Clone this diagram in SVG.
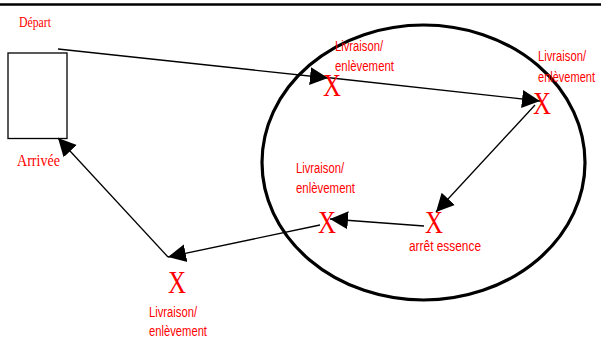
<svg xmlns="http://www.w3.org/2000/svg" width="601" height="352" viewBox="0 0 601 352">
<style>
.lbl{font-family:"Liberation Sans",Arial,sans-serif;font-size:14px;fill:#ff0000}
.ser{font-family:"Liberation Serif","Times New Roman",serif;fill:#ff0000}
.x{font-family:"Liberation Serif","Times New Roman",serif;font-size:31px;fill:#ff0000;text-anchor:middle}
.conn{stroke:#000;stroke-width:1.3;fill:none}
</style>
<defs>
<marker id="ah" markerUnits="userSpaceOnUse" markerWidth="20" markerHeight="20" viewBox="0 0 20 20" refX="18" refY="10" orient="auto">
<path d="M0,1 L18,10 L0,19 Z" fill="#000"/>
</marker>
</defs>
<rect width="601" height="352" fill="#fff"/>
<line x1="0" y1="4.5" x2="601" y2="4.5" stroke="#000" stroke-width="2.5"/>
<g id="zone">
<ellipse cx="423.5" cy="162.5" rx="161.5" ry="137.5" fill="none" stroke="#000" stroke-width="3.2"/>
</g>
<g id="depot">
<rect x="8" y="53" width="59" height="85.5" fill="none" stroke="#000" stroke-width="1.3"/>
<text class="ser" x="19" y="27" font-size="14" textLength="32" lengthAdjust="spacingAndGlyphs">Départ</text>
<text class="ser" x="17" y="165.5" font-size="16.5" textLength="43" lengthAdjust="spacingAndGlyphs">Arrivée</text>
</g>
<g id="connectors">
<line class="conn" x1="58" y1="49" x2="328" y2="78" marker-end="url(#ah)"/>
<line class="conn" x1="327" y1="77.5" x2="540" y2="101" marker-end="url(#ah)"/>
<line class="conn" x1="535" y1="105" x2="436" y2="212" marker-end="url(#ah)"/>
<line class="conn" x1="424" y1="226" x2="330" y2="219" marker-end="url(#ah)"/>
<line class="conn" x1="320" y1="225" x2="168" y2="257" marker-end="url(#ah)"/>
<line class="conn" x1="168" y1="257" x2="58" y2="138" marker-end="url(#ah)"/>
</g>
<g id="stop1">
<text class="x" x="332" y="96" textLength="18" lengthAdjust="spacingAndGlyphs">X</text>
<text class="lbl" x="335" y="51" textLength="48" lengthAdjust="spacingAndGlyphs">Livraison/</text>
<text class="lbl" x="335" y="71" textLength="59" lengthAdjust="spacingAndGlyphs">enlèvement</text>
</g>
<g id="stop2">
<text class="x" x="542" y="114" textLength="18" lengthAdjust="spacingAndGlyphs">X</text>
<text class="lbl" x="538" y="60.5" textLength="48" lengthAdjust="spacingAndGlyphs">Livraison/</text>
<text class="lbl" x="538" y="81.5" textLength="57" lengthAdjust="spacingAndGlyphs">enlèvement</text>
</g>
<g id="fuel">
<text class="x" x="434" y="233" textLength="18" lengthAdjust="spacingAndGlyphs">X</text>
<text class="lbl" x="409" y="251" textLength="72" lengthAdjust="spacingAndGlyphs">arrêt essence</text>
</g>
<g id="stop3">
<text class="x" x="327" y="233" textLength="18" lengthAdjust="spacingAndGlyphs">X</text>
<text class="lbl" x="296" y="172.5" textLength="48" lengthAdjust="spacingAndGlyphs">Livraison/</text>
<text class="lbl" x="296" y="193" textLength="59" lengthAdjust="spacingAndGlyphs">enlèvement</text>
</g>
<g id="stop4">
<text class="x" x="177" y="293" textLength="18" lengthAdjust="spacingAndGlyphs">X</text>
<text class="lbl" x="149" y="316.5" textLength="48" lengthAdjust="spacingAndGlyphs">Livraison/</text>
<text class="lbl" x="149" y="336" textLength="58" lengthAdjust="spacingAndGlyphs">enlèvement</text>
</g>
</svg>
